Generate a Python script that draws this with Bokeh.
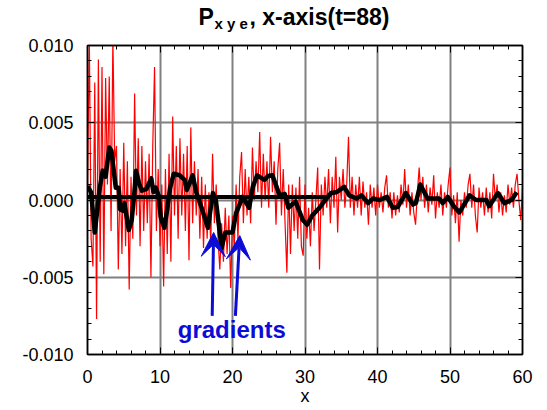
import numpy as np
from bokeh.plotting import figure
from bokeh.layouts import column
from bokeh.models import (Range1d, LinearAxis, Label, Arrow, VeeHead,
                          SingleIntervalTicker, CustomJSTickFormatter)
from bokeh.core.properties import value
from bokeh.embed import file_html
from bokeh.resources import INLINE

# ---------------- data (values in units of 1e-3) ----------------
red_step = 0.25
red_y_milli = [
    0.8, 10.5, -2.5, -4.3, 7.6, -7.7, 9.1, -4.0,
    8.6, -4.8, 7.9, 1.0, 8.0, -2.0, 10.5, 2.5,
    3.5, -4.5, 2.0, -3.5, 3.7, -3.0, 2.5, -5.8,
    1.5, -2.5, 6.9, -1.0, 4.0, -3.0, 3.5, -2.0,
    2.5, -1.5, 3.0, -5.0, 3.5, 8.6, -2.0, 2.0,
    -3.0, 1.0, -5.6, 2.0, -3.5, 3.0, -4.0, 5.4,
    -1.0, 3.5, -2.5, 4.0, -1.0, 3.0, -2.0, 3.5,
    -3.9, 4.7, -1.5, 2.5, -1.0, 2.0, -2.5, 1.5,
    -3.1, 1.0, -2.5, 0.5, -3.0, 3.0, -1.5, 1.0,
    -2.5, -4.5, -1.5, -4.0, -0.5, -3.5, -1.0, -5.7,
    -1.0, -3.0, 1.0, -2.6, 1.5, 3.1, -1.5, 2.0,
    -1.0, 1.5, -1.5, 3.4, 0.0, 2.5, 0.5, 4.4,
    -0.5, 3.0, 0.0, 2.5, -0.5, 4.1, 0.5, 2.5,
    -1.6, 2.0, 3.7, -1.0, 2.0, -1.5, -4.7, 1.0,
    -3.5, 1.0, -2.0, 0.8, -2.5, 1.5, -3.0, -3.6,
    1.0, -2.5, -0.5, -3.0, 0.5, -2.0, 0.0, 2.1,
    -4.5, 1.0, -1.0, 1.5, -0.5, 2.0, -1.5, 1.5,
    -0.5, 2.8, -2.1, 1.5, 0.0, 2.0, -0.5, 1.0,
    4.1, -0.5, 1.5, -1.0, 1.0, -0.5, 1.5, -1.0,
    1.2, -0.5, 0.5, -1.6, 1.0, -0.5, 0.8, -1.0,
    1.0, -0.5, 0.5, -0.8, 0.8, 1.6, -0.5, 0.5,
    -1.2, 0.5, -1.0, 0.3, -0.8, 1.0, -0.3, 2.0,
    -0.5, 1.0, -1.0, 0.5, -0.8, -1.6, 0.5, 2.1,
    0.0, 1.5, -0.5, 1.0, -0.8, 0.8, -0.3, 1.6,
    -1.2, 0.5, -0.5, 1.0, -1.0, 0.5, -0.5, 1.0,
    2.1, -1.0, 0.3, -1.5, 0.5, -2.7, 0.0, -1.0,
    0.5, -0.5, 1.0, 1.7, -0.5, 1.0, -1.0, -2.1,
    0.8, -0.5, 0.5, -1.0, 0.8, -0.8, 0.5, -1.2,
    1.7, 0.0, 1.0, -0.8, 0.5, -1.0, 0.3, -0.8,
    1.0, -0.3, 0.8, -0.5, 1.0, 1.7, 0.0, -1.3,
    0.8,
]
red_x = [i * red_step for i in range(len(red_y_milli))]

avg_x = [0, 0.5, 1.0, 1.7, 2.1, 2.5, 3.0, 3.3, 3.9, 4.3, 4.5, 4.9, 5.1, 5.5, 5.7,
         6.1, 6.5, 6.7, 7.1, 7.5, 8.1, 8.8, 9.1, 9.4, 9.8, 10.1, 10.3, 10.6, 11.0,
         11.4, 11.9, 12.7, 13.4, 13.7, 14.1, 14.5, 15.0, 15.7, 16.6, 17.3, 17.7,
         18.5, 19.0, 20.0, 20.5, 21.4, 22.3, 22.8, 23.4, 24.4, 24.9, 25.5, 26.5,
         27.2, 27.7, 28.7, 29.7, 30.3, 31.0, 32.0, 32.8, 33.6, 34.3, 35.4, 36.1,
         37.1, 37.8, 38.7, 39.4, 40.3, 41.3, 42.1, 42.8, 43.9, 44.9, 45.3, 45.9,
         46.9, 48.5, 49.0, 49.7, 50.6, 51.3, 52.7, 53.6, 55.0, 55.4, 56.6, 57.5,
         58.5, 59.2]
avg_y_milli = [0.9, 0.5, -2.1, 0.8, 1.9, 1.5, 3.4, 3.2, 0.8, 0.8, -0.6, -0.7, -0.2, -1.4, -1.95,
               -1.3, 0.65, 1.9, 1.1, 0.6, 0.7, 1.4, 0.5, 0.8, 0.3, -1.1, -1.4, -1.8, -0.6,
               0.8, 1.7, 1.6, 1.3, 0.65, 1.1, 1.6, 0.5, -0.45, -1.8, 0.45, 0.0,
               -3.1, -2.1, -2.1, -0.85, 0.2, -0.5, 0.85, 1.6, 1.3, 1.55, 1.6, 0.3,
               0.4, -0.5, -0.1, -1.3, -1.6, -1.0, -0.5, 0.0, 0.45, 0.5, 0.85, 0.3,
               0.1, 0.3, -0.2, 0.1, 0.0, 0.2, -0.5, -0.45, 0.45, -0.3, -0.2, 1.0,
               0.1, 0.1, -0.2, 0.2, -0.45, -0.8, 0.3, 0.0, 0.0, -0.4, 0.45, -0.2,
               0.0, 0.5]

ref_x = [0, 33]
ref_y_milli = [0.2, 0.2]

x_ticks = [0, 10, 20, 30, 40, 50, 60]
y_ticks = [-0.010, -0.005, 0.0, 0.005, 0.010]

title_main = "P"
title_sub = "x y e"
title_rest = ", x-axis(t=88)"
annotation_text = "gradients"

red_y = [v * 1e-3 for v in red_y_milli]
avg_y = [v * 1e-3 for v in avg_y_milli]
ref_y = [v * 1e-3 for v in ref_y_milli]

FONT = "Liberation Sans"
BLUE = "#0c0cd6"
W = 545
TH = 34
FL, FR = 87, 522   # frame left / right in page pixels (shared by both rows)

# ---------------- title strip (x in page pixels) ----------------
t = figure(width=W, height=TH, output_backend="svg", toolbar_location=None,
           x_range=Range1d(FL, FR), y_range=Range1d(0, TH),
           min_border_left=FL, min_border_right=W - FR, min_border_top=0, min_border_bottom=0,
           x_axis_location=None, y_axis_location=None)
t.title.visible = False
t.grid.visible = False
t.outline_line_color = None
t.background_fill_color = "white"
t.border_fill_color = "white"
t.text(x=[198], y=[TH - 16], text=[title_main], text_font=value(FONT), text_font_size="23px",
       text_font_style="bold", text_color="black", text_align="left", text_baseline="middle")
t.text(x=[214], y=[TH - 23], text=[title_sub], text_font=value(FONT), text_font_size="15px",
       text_font_style="bold", text_color="black", text_align="left", text_baseline="middle")
t.text(x=[249], y=[TH - 16], text=[title_rest], text_font=value(FONT), text_font_size="23px",
       text_font_style="bold", text_color="black", text_align="left", text_baseline="middle")

# ---------------- main plot ----------------
p = figure(width=W, height=375, output_backend="svg", toolbar_location=None,
           x_range=Range1d(x_ticks[0], x_ticks[-1]), y_range=Range1d(y_ticks[0], y_ticks[-1]),
           min_border_left=FL, min_border_right=W - FR, min_border_top=11, min_border_bottom=55,
           x_axis_label="x")
p.title.visible = False
p.background_fill_color = "white"
p.border_fill_color = "white"
p.outline_line_color = "black"
p.outline_line_width = 1.5

bottom_ax = p.below[0]
left_ax = p.left[0]

xt = SingleIntervalTicker(interval=10, num_minor_ticks=5)
yt = SingleIntervalTicker(interval=0.005, num_minor_ticks=5)
bottom_ax.ticker = xt
left_ax.ticker = yt
p.xgrid.ticker = xt
p.ygrid.ticker = yt
for g in (p.xgrid, p.ygrid):
    g.grid_line_color = "#808080"
    g.grid_line_width = 2

left_ax.formatter = CustomJSTickFormatter(
    code="return Math.abs(tick) < 1e-9 ? '0.000' : tick.toFixed(3);")

top_ax = LinearAxis(ticker=xt, formatter=CustomJSTickFormatter(code="return '';"))
right_ax = LinearAxis(ticker=yt, formatter=CustomJSTickFormatter(code="return '';"))
top_ax.major_label_standoff = 0
right_ax.major_label_standoff = 0
p.add_layout(top_ax, "above")
p.add_layout(right_ax, "right")

for ax in [bottom_ax, left_ax, top_ax, right_ax]:
    ax.axis_line_color = "black"
    ax.axis_line_width = 1.5
    ax.major_tick_in = 7
    ax.major_tick_out = 0
    ax.minor_tick_in = 4
    ax.minor_tick_out = 0
    ax.major_tick_line_color = "black"
    ax.minor_tick_line_color = "black"
    ax.major_label_text_font = FONT
    ax.major_label_text_font_size = "18px"
    ax.major_label_text_color = "black"
bottom_ax.major_label_standoff = 15
left_ax.major_label_standoff = 14
bottom_ax.axis_label_standoff = 0
bottom_ax.axis_label_text_font = FONT
bottom_ax.axis_label_text_font_size = "18px"
bottom_ax.axis_label_text_font_style = "normal"
bottom_ax.axis_label_text_color = "black"

p.line(red_x, red_y, line_color="#ff0000", line_width=1.2)
p.line(ref_x, ref_y, line_color="black", line_width=4)
p.line(avg_x, avg_y, line_color="black", line_width=4.5, line_join="round")

for (x0, y0, x1, y1) in [(17.2, -0.0075, 17.4, -0.0021), (20.4, -0.0075, 21.0, -0.0023)]:
    p.add_layout(Arrow(x_start=x0, y_start=y0, x_end=x1, y_end=y1,
                       line_color=BLUE, line_width=3,
                       end=VeeHead(size=24, fill_color=BLUE, line_color=BLUE, line_width=1)))

p.add_layout(Label(x=19.9, y=-0.0084, text=annotation_text, text_font=FONT,
                   text_font_size="24px", text_font_style="bold", text_color=BLUE,
                   text_align="center", text_baseline="middle"))

layout = column(t, p, spacing=0)
open("out.html", "w").write(file_html(layout, INLINE))
